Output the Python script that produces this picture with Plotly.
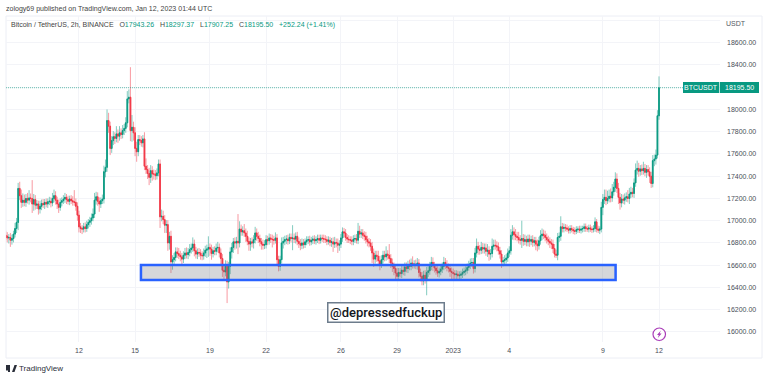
import datetime as dt
import plotly.graph_objects as go

first_open = 16870
closes = [
 16862,16845,16850,16825,16840,16880,16930,16985,17290,17225,17165,
 17185,17165,17200,17185,17205,17200,17150,17190,17140,17150,17105,17130,
 17155,17145,17165,17150,17170,17175,17160,17200,17225,17185,17150,17120,
 17165,17180,17195,17210,17190,17175,17195,17180,17170,17165,17130,17050,
 16945,16930,16925,16945,16930,16965,16985,17000,17025,17060,17185,17215,
 17175,17150,17180,17195,17440,17480,17900,17850,17650,17720,17755,17740,
 17780,17760,17790,17775,17810,17830,17880,18095,18110,17810,17840,17790,
 17650,17620,17730,17720,17700,17735,17490,17460,17425,17390,17450,17420,
 17420,17405,17430,17510,17035,17040,17010,16960,16965,16800,16860,16630,
 16650,16670,16720,16705,16690,16675,16655,16690,16710,16695,16715,16740,
 16755,16790,16730,16700,16715,16710,16690,16685,16710,16735,16745,16760,
 16745,16705,16730,16725,16755,16760,16710,16660,16555,16540,16590,16450,
 16590,16720,16760,16810,16800,16815,16800,16925,16900,16910,16890,16860,
 16815,16790,16810,16800,16830,16890,16860,16840,16810,16790,16780,16785,
 16830,16820,16845,16835,16830,16825,16845,16650,16590,16650,16800,16815,
 16830,16835,16820,16850,16840,16845,16835,16860,16815,16795,16780,16800,
 16785,16810,16825,16830,16810,16825,16835,16820,16830,16840,16825,16845,
 16840,16835,16830,16815,16825,16805,16810,16790,16805,16800,16780,16790,
 16845,16900,16890,16850,16835,16830,16825,16815,16835,16840,16825,16905,
 16880,16890,16870,16860,16830,16810,16800,16770,16710,16655,16690,16680,
 16640,16610,16650,16690,16675,16700,16690,16660,16620,16590,16570,16530,
 16500,16535,16525,16555,16545,16585,16570,16600,16590,16620,16605,16610,
 16600,16620,16535,16500,16460,16510,16470,16535,16550,16590,16625,16595,
 16575,16550,16530,16545,16565,16590,16625,16605,16580,16570,16545,16535,
 16525,16515,16520,16505,16510,16520,16535,16545,16555,16580,16600,16620,
 16625,16570,16710,16770,16745,16735,16760,16745,16755,16725,16735,16700,
 16705,16770,16780,16775,16765,16730,16700,16630,16640,16650,16665,16710,
 16730,16870,16900,16875,16860,16850,16830,16825,16840,16815,16830,16810,
 16835,16815,16830,16805,16820,16790,16775,16820,16865,16880,16870,16850,
 16830,16815,16800,16790,16750,16700,16690,16850,16860,16945,16930,16940,
 16935,16925,16915,16930,16920,16910,16905,16920,16925,16915,16925,16930,
 16945,16930,16925,16935,16925,16920,16930,16990,16925,16915,16925,17120,
 17190,17210,17180,17200,17220,17205,17260,17300,17375,17290,17210,17160,
 17195,17185,17205,17215,17200,17240,17255,17245,17340,17455,17470,17445,
 17465,17450,17470,17435,17460,17440,17400,17335,17540,17555,17590,17943.26,
 18195.50,
]
upper_wicks = [
 30,25,20,30,25,20,40,30,40,50,45,
 50,40,30,40,60,30,165,40,30,25,20,40,
 25,30,20,25,20,30,25,40,45,30,20,30,
 25,20,25,30,20,25,20,25,30,105,25,25,
 30,25,20,25,30,25,20,25,30,40,55,35,
 30,25,20,30,45,60,100,60,30,30,40,30,
 60,30,50,30,40,30,40,70,60,270,110,40,
 40,50,30,30,30,25,50,60,30,40,40,30,
 30,25,30,30,30,50,40,30,30,30,30,40,
 30,30,30,30,40,30,25,25,35,40,30,40,
 30,50,30,25,25,30,25,25,30,30,30,100,
 25,30,25,30,30,40,25,30,30,30,45,40,
 30,30,30,25,30,30,245,60,30,30,50,30,
 40,25,25,30,30,45,30,30,25,25,30,30,
 30,25,30,25,30,25,40,25,25,25,40,30,
 25,25,30,25,25,115,30,25,30,25,30,30,
 25,20,25,20,25,20,20,25,20,25,25,20,
 20,25,25,20,25,20,25,30,40,25,30,25,
 25,30,25,25,20,25,20,25,25,25,30,65,
 40,25,25,25,30,25,25,25,30,30,30,30,
 40,35,30,30,30,60,25,100,30,30,25,30,
 35,30,30,30,25,30,30,30,40,30,50,25,
 30,35,25,25,30,30,35,40,30,30,40,35,
 25,25,30,25,25,25,40,30,30,25,25,25,
 25,20,25,20,25,20,25,25,25,25,30,30,
 30,30,35,60,30,25,40,30,30,30,45,25,
 30,60,40,40,30,30,25,25,25,30,25,30,
 30,45,50,30,40,30,40,30,160,30,35,25,
 30,30,25,30,25,25,30,25,40,40,30,30,
 25,25,25,25,30,30,30,30,25,95,25,25,
 20,20,15,20,20,15,20,20,15,20,20,15,
 20,20,15,20,20,15,20,30,15,20,15,40,
 40,70,60,70,50,60,70,40,50,40,40,30,
 35,30,30,30,50,45,40,30,30,50,60,40,
 25,30,50,30,30,30,30,30,40,30,40,40,
 101.87,
]
lower_wicks = [
 25,30,40,50,30,25,20,30,60,30,40,
 30,25,30,20,30,25,80,50,30,25,40,30,
 25,20,30,20,25,20,30,20,25,30,35,40,
 20,25,20,25,30,20,25,20,25,20,30,40,
 40,30,35,20,25,20,25,30,25,20,25,30,
 30,60,25,20,30,40,30,50,50,30,30,40,
 25,50,30,30,25,30,30,30,30,95,100,60,
 60,90,30,30,25,30,25,30,40,70,40,50,
 40,30,25,20,100,30,30,60,70,60,50,100,
 60,30,25,30,25,30,40,25,25,25,30,25,
 25,25,40,30,35,25,30,30,25,25,60,60,
 50,45,25,25,25,30,30,40,50,55,30,190,
 50,60,50,40,50,40,100,30,25,25,25,40,
 25,50,50,30,40,25,30,30,30,40,30,25,
 25,30,25,25,60,30,20,30,35,30,25,40,
 25,30,25,20,25,105,25,30,25,30,35,25,
 25,20,20,25,25,20,25,20,25,20,25,20,
 20,25,20,25,20,25,30,70,25,30,60,40,
 25,25,30,20,25,20,25,25,25,25,20,25,
 25,25,25,30,25,30,30,30,90,60,30,40,
 30,45,25,25,30,25,30,30,35,40,50,50,
 25,30,25,30,25,30,25,30,25,25,25,25,
 25,30,35,35,30,30,25,140,30,25,25,35,
 30,25,25,30,25,25,25,30,25,25,40,60,
 40,40,30,25,20,25,25,20,25,20,20,25,
 25,35,25,30,40,30,25,30,30,30,40,50,
 40,25,25,25,30,25,30,45,30,25,25,25,
 25,25,30,40,25,25,25,30,60,30,25,30,
 30,40,25,30,25,45,40,25,25,30,25,25,
 25,25,35,35,30,20,15,35,30,30,25,25,
 20,15,20,20,15,20,20,15,20,15,20,20,
 20,20,15,20,15,20,15,20,20,15,25,20,
 60,30,30,20,25,30,25,25,30,30,50,50,
 30,25,30,25,25,40,25,25,30,25,30,40,
 30,30,25,25,40,25,50,30,25,40,40,20,
 36.01,
]
# my readings of the short wicks came out low against the blurred picture
SHORT_WICK_LIMIT = 70
SHORT_WICK_EXTRA = 10
last_time = dt.datetime(2023, 1, 12, 0, 0)
price_ticks = [16000,16200,16400,16600,16800,17000,17200,17400,17600,17800,18000,18200,18400,18600,18800]
hidden_price_labels = [18200, 18800]
date_ticks = ["2022-12-12","2022-12-15","2022-12-19","2022-12-22","2022-12-26","2022-12-29","2023-01-01","2023-01-04","2023-01-09","2023-01-12"]
date_labels = ["12","15","19","22","26","29","2023","4","9","12"]
zone_start, zone_end = "2022-12-15 07:30", "2023-01-09 16:20"
zone_low, zone_high = 16468, 16602
last_price = 18195.50

UP, DOWN = "#089981", "#f23645"
W, H = 768, 380
L, R, T, B = 6, 720, 16, 342

def px(x): return (x - L) / (R - L)
def py(y): return (B - y) / (B - T)
def wick(v): return v + SHORT_WICK_EXTRA if v < SHORT_WICK_LIMIT else v

n = len(closes)
times = [last_time - dt.timedelta(hours=2 * (n - 1 - k)) for k in range(n)]
opens = [first_open] + closes[:-1]
highs = [max(o, c) + wick(u) for o, c, u in zip(opens, closes, upper_wicks)]
lows = [min(o, c) - wick(d) for o, c, d in zip(opens, closes, lower_wicks)]
lows[-1] = 17907.25
tops = [max(o, c) for o, c in zip(opens, closes)]
bots = [min(o, c) for o, c in zip(opens, closes)]

fig = go.Figure()
fig.add_trace(go.Candlestick(
    x=times, open=opens, high=highs, low=lows, close=closes, hoverinfo="skip", showlegend=False,
    whiskerwidth=0,
    increasing=dict(line=dict(color="rgba(8,153,129,0.5)", width=1), fillcolor="rgba(8,153,129,0)"),
    decreasing=dict(line=dict(color="rgba(242,54,69,0.5)", width=1), fillcolor="rgba(242,54,69,0)"),
))
fig.add_trace(go.Candlestick(
    x=times, open=opens, high=tops, low=bots, close=closes, hoverinfo="skip", showlegend=False,
    whiskerwidth=0,
    increasing=dict(line=dict(color=UP, width=0.8), fillcolor=UP),
    decreasing=dict(line=dict(color=DOWN, width=0.8), fillcolor=DOWN),
))

FONT = "Liberation Sans"
PURPLE = "#a93cb8"
shapes = [
    dict(type="rect", xref="paper", yref="paper", x0=px(6), x1=px(762), y0=py(358), y1=py(16),
         line=dict(color="#eceef5", width=1), layer="below"),
    dict(type="line", xref="paper", yref="y", x0=0, x1=px(720), y0=last_price, y1=last_price,
         line=dict(color="rgba(8,153,129,0.6)", width=1, dash="1px,1px")),
    dict(type="rect", xref="x", yref="y", x0=zone_start, x1=zone_end, y0=zone_low, y1=zone_high,
         line=dict(color="#2962ff", width=2.5), fillcolor="rgba(120,123,134,0.3)"),
    dict(type="rect", xref="paper", yref="paper", x0=px(683), x1=px(719.3), y0=py(93), y1=py(82),
         line=dict(width=0), fillcolor=UP),
    dict(type="rect", xref="paper", yref="paper", x0=px(720), x1=px(759), y0=py(93), y1=py(82),
         line=dict(width=0), fillcolor=UP),
    dict(type="circle", xref="paper", yref="paper", x0=px(653), x1=px(665.5), y0=py(340.5), y1=py(328),
         line=dict(color=PURPLE, width=1.2), fillcolor="white"),
    dict(type="path", xref="paper", yref="paper",
         path=(f"M {px(660.8)} {py(330.5)} L {px(657)} {py(335)} L {px(658.8)} {py(335)} "
               f"L {px(657.8)} {py(338)} L {px(661.6)} {py(333.4)} L {px(659.7)} {py(333.4)} Z"),
         line=dict(width=0), fillcolor=PURPLE),
    dict(type="rect", xref="paper", yref="paper", x0=px(6), x1=px(10), y0=py(370.5), y1=py(365),
         line=dict(width=0), fillcolor="#2a2e39"),
    dict(type="rect", xref="paper", yref="paper", x0=px(8), x1=px(10), y0=py(372), y1=py(365),
         line=dict(width=0), fillcolor="#2a2e39"),
    dict(type="path", xref="paper", yref="paper",
         path=f"M {px(12)} {py(372)} L {px(14.5)} {py(365)} L {px(17)} {py(365)} L {px(14.5)} {py(372)} Z",
         line=dict(width=0), fillcolor="#2a2e39"),
]

def note(x, y, text, size=8, color="#555a66", anchor="left", family=FONT, weight="normal", **kw):
    return dict(xref="paper", yref="paper", x=px(x), y=py(y), text=text, showarrow=False,
                xanchor=anchor, yanchor="middle", align=anchor,
                font=dict(family=family, size=size, color=color, weight=weight), **kw)

legend = (
    '<span style="color:#444">Bitcoin / TetherUS, 2h, BINANCE   O</span>'
    f'<span style="color:{UP}">17943.26</span>'
    '<span style="color:#444">   H</span>'
    f'<span style="color:{UP}">18297.37</span>'
    '<span style="color:#444">   L</span>'
    f'<span style="color:{UP}">17907.25</span>'
    '<span style="color:#444">   C</span>'
    f'<span style="color:{UP}">18195.50</span>'
    f'<span style="color:{UP}">   +252.24 (+1.41%)</span>'
)
annotations = [
    note(4, 9, "zology69 published on TradingView.com, Jan 12, 2023 01:44 UTC", size=7.05, color="#444"),
    note(8.5, 25, legend, size=7),
    note(724, 24, "USDT", size=7, color="#555a66"),
    note(701, 87.7, "BTCUSDT", size=7, color="white", anchor="center"),
    note(739.5, 87.7, "18195.50", size=7, color="white", anchor="center"),
    note(17, 368.5, "TradingView", size=8, color="#2a2e39"),
    note(385.5, 312.5, "@depressedfuckup", size=13, color="#131722", anchor="center",
         family="Roboto", weight=500,
         bgcolor="white", bordercolor="#6d7c8c", borderwidth=1.5, borderpad=1.5),
]

fig.update_layout(
    width=W, height=H, margin=dict(l=L, r=W - R, t=T, b=H - B),
    paper_bgcolor="white", plot_bgcolor="white", showlegend=False,
    font=dict(family=FONT, size=7, color="#4a4e58"),
    boxgap=0.3, shapes=shapes, annotations=annotations,
    xaxis=dict(type="date", range=["2022-12-08 02:24", "2023-01-15 06:15"], rangeslider=dict(visible=False),
               tickmode="array", tickvals=date_ticks, ticktext=date_labels, showgrid=True,
               gridcolor="#f3f4f8", gridwidth=1, zeroline=False, showline=False, ticks="", ticklabelstandoff=3),
    yaxis=dict(side="right", range=[15910, 18840], tickmode="array", tickvals=price_ticks,
               ticktext=["" if v in hidden_price_labels else f"{v:.2f}" for v in price_ticks], showgrid=True,
               gridcolor="#f3f4f8", gridwidth=1, zeroline=False, showline=False, ticks="", ticklabelstandoff=6),
)
fig.write_html("out.html", config=dict(displayModeBar=False, staticPlot=True),
               post_script="document.body.style.margin='0';document.documentElement.style.overflow='hidden';")
